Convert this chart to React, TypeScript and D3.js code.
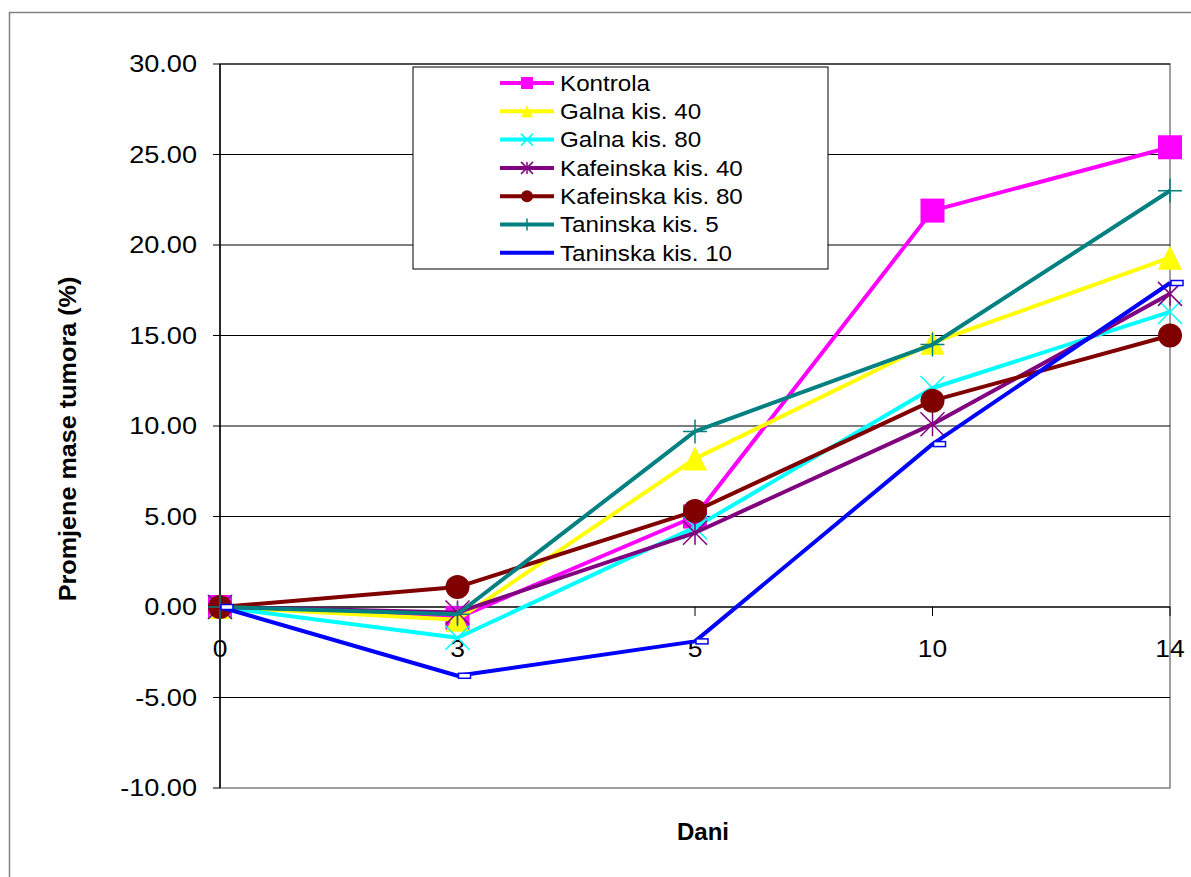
import React from "react";
import * as d3 from "d3";

const categories = ["0", "3", "5", "10", "14"];
const seriesNames = [
  "Kontrola",
  "Galna kis. 40",
  "Galna kis. 80",
  "Kafeinska kis. 40",
  "Kafeinska kis. 80",
  "Taninska kis. 5",
  "Taninska kis. 10",
];
const kontrola = [0, -0.6, 5.0, 21.9, 25.4];
const galna40 = [0, -0.7, 8.2, 14.6, 19.3];
const galna80 = [0, -1.7, 4.4, 12.1, 16.3];
const kafeinska40 = [0, -0.3, 4.1, 10.1, 17.3];
const kafeinska80 = [0, 1.1, 5.3, 11.4, 15.0];
const taninska5 = [0, -0.4, 9.7, 14.5, 23.0];
const taninska10 = [0, -3.8, -1.9, 9.0, 17.9];
const yTicks = [30, 25, 20, 15, 10, 5, 0, -5, -10];

const seriesValues = [kontrola, galna40, galna80, kafeinska40, kafeinska80, taninska5, taninska10];
const colors = ["#FF00FF", "#FFFF00", "#00FFFF", "#800080", "#800000", "#008080", "#0000FF"];
const markers = ["square", "triangle", "x", "star", "circle", "plus", "bar"];

const L = 220, R = 1170, T = 64, B = 788;

function Marker({ type, color, cx, cy, s }: { type: string; color: string; cx: number; cy: number; s: number }) {
  const h = s / 2;
  switch (type) {
    case "square":
      return <rect x={cx - h} y={cy - h} width={s} height={s} fill={color} />;
    case "triangle":
      return <path d={`M${cx},${cy - h}L${cx + h},${cy + h}L${cx - h},${cy + h}Z`} fill={color} />;
    case "circle":
      return <circle cx={cx} cy={cy} r={h} fill={color} />;
    case "x":
      return (
        <path d={`M${cx - h},${cy - h}L${cx + h},${cy + h}M${cx - h},${cy + h}L${cx + h},${cy - h}`} stroke={color} strokeWidth={1.5} />
      );
    case "star":
      return (
        <path
          d={`M${cx - h},${cy - h}L${cx + h},${cy + h}M${cx - h},${cy + h}L${cx + h},${cy - h}M${cx},${cy - h}L${cx},${cy + h}`}
          stroke={color}
          strokeWidth={1.5}
        />
      );
    case "plus":
      return <path d={`M${cx - h},${cy}L${cx + h},${cy}M${cx},${cy - h}L${cx},${cy + h}`} stroke={color} strokeWidth={1.5} />;
    case "bar":
      return <rect x={cx + 1} y={cy - 2.5} width={12} height={5} fill="white" stroke={color} strokeWidth={1.5} />;
    default:
      return null;
  }
}

function SText({
  x, y, sx, size, anchor, bold, children,
}: { x: number; y: number; sx: number; size: number; anchor?: string; bold?: boolean; children: React.ReactNode }) {
  return (
    <text
      transform={`translate(${x},${y}) scale(${sx},1)`}
      dy="0.35em"
      textAnchor={anchor || "start"}
      fontSize={size}
      fontWeight={bold ? "bold" : "normal"}
      fill="#000"
    >
      {children}
    </text>
  );
}

export default function App() {
  const x = d3.scalePoint<string>().domain(categories).range([L, R]);
  const y = d3.scaleLinear().domain([-10, 30]).range([B, T]);
  const line = d3
    .line<number>()
    .x((_, i) => x(categories[i]) as number)
    .y((d) => y(d));

  const legendX = 413, legendY = 67, legendW = 415, legendH = 202;
  const rowH = 28.3;

  return (
    <svg width={1191} height={877} style={{ position: "absolute", left: 0, top: 0 }} fontFamily="'Liberation Sans', Arial, sans-serif">
      <rect x={0} y={0} width={1191} height={877} fill="white" />
      <path d="M9.5,877V12.5H1191" fill="none" stroke="#808080" strokeWidth={1.5} />
      {/* plot area */}
      <rect x={L} y={T} width={R - L} height={B - T} fill="white" stroke="#808080" strokeWidth={1.5} />
      {yTicks.map((t) => (
        <g key={t}>
          {t !== -10 && t !== 0 && (
            <line x1={L} x2={R} y1={y(t)} y2={y(t)} stroke="#000" strokeWidth={1} />
          )}
          <line x1={L - 7} x2={L} y1={y(t)} y2={y(t)} stroke="#000" strokeWidth={1} />
          <SText x={L - 23} y={y(t)} sx={1.13} size={24} anchor="end">
            {t.toFixed(2)}
          </SText>
        </g>
      ))}
      <line x1={L} x2={L} y1={T} y2={B} stroke="#000" strokeWidth={1.5} />
      <line x1={L} x2={R} y1={y(0)} y2={y(0)} stroke="#000" strokeWidth={1.5} />
      {categories.map((c) => (
        <g key={c}>
          <line x1={x(c)} x2={x(c)} y1={y(0)} y2={y(0) + 9} stroke="#000" strokeWidth={1} />
          <SText x={x(c) as number} y={y(0) + 42} sx={1.1} size={24} anchor="middle">
            {c}
          </SText>
        </g>
      ))}
      {/* series */}
      {seriesValues.map((vals, si) => (
        <g key={si}>
          <path d={line(vals) as string} fill="none" stroke={colors[si]} strokeWidth={4} strokeLinejoin="round" />
          {vals.map((v, i) => (
            <Marker key={i} type={markers[si]} color={colors[si]} cx={x(categories[i]) as number} cy={y(v)} s={24} />
          ))}
        </g>
      ))}
      {/* legend */}
      <rect x={legendX} y={legendY} width={legendW} height={legendH} fill="white" stroke="#000" strokeWidth={1} />
      {seriesNames.map((n, i) => {
        const cy = legendY + 16 + i * rowH;
        return (
          <g key={n}>
            <line x1={500} x2={554} y1={cy} y2={cy} stroke={colors[i]} strokeWidth={4} />
            {markers[i] !== "bar" && <Marker type={markers[i]} color={colors[i]} cx={527} cy={cy} s={12} />}
            <SText x={560} y={cy} sx={1.1} size={22}>
              {n}
            </SText>
          </g>
        );
      })}
      {/* axis titles */}
      <g transform={`translate(68,439) rotate(-90)`}>
        <SText x={0} y={0} sx={1.05} size={24} anchor="middle" bold>
          Promjene mase tumora (%)
        </SText>
      </g>
      <SText x={703} y={832} sx={1} size={24} anchor="middle" bold>
        Dani
      </SText>
    </svg>
  );
}
